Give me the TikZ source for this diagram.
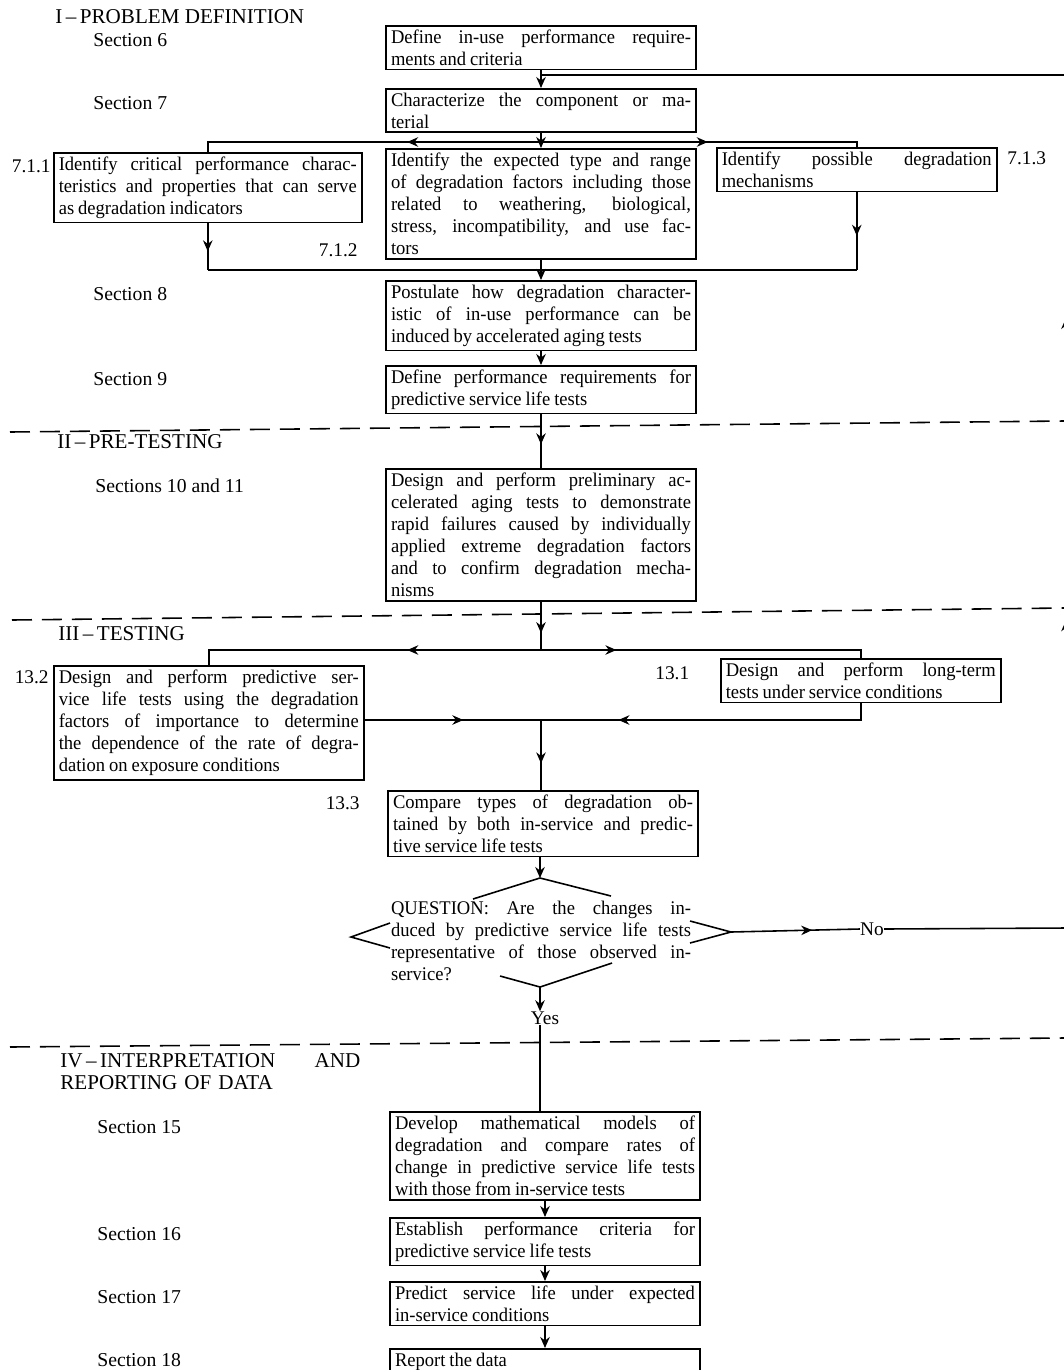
\documentclass[tikz,border=0pt]{standalone}
\usepackage{fontspec}
\setmainfont{Liberation Serif}
\newfontfamily\boxfont[FakeStretch=0.96,WordSpace={0.85,1.5,1.2}]{Liberation Serif}
\usetikzlibrary{arrows.meta}
\usetikzlibrary{decorations.markings}
\usetikzlibrary{calc}
\tolerance=9999
\hyphenpenalty=10000
\exhyphenpenalty=10000

\begin{document}
\begin{tikzpicture}[x=0.02cm,y=-0.02cm,
	>={Stealth[length=2.2mm,width=1.9mm]},
	box/.style={draw,line width=0.9pt,align=justify,inner xsep=0.1cm,inner ysep=2.2pt,
		text width=#1,font=\boxfont\fontsize{11}{12.6}\selectfont},
	box/.default=6cm,
	qtext/.style={align=justify,inner sep=0pt,text width=6cm,font=\boxfont\fontsize{11}{12.6}\selectfont},
	heading/.style={anchor=west,inner sep=0pt,font=\fontsize{12}{12.6}\selectfont},
	seclabel/.style={anchor=west,inner sep=0pt,font=\fontsize{11.2}{13}\selectfont},
	numlabel/.style={inner sep=0pt,font=\fontsize{11}{13}\selectfont},
	sepline/.style={line width=0.9pt,dash pattern=on 0.4cm off 0.2cm},
	link/.style={line width=0.9pt},
	midarrow/.style={link,postaction={decorate},
		decoration={markings,mark=at position #1 with {\arrow{>}}}},
	]

	\useasboundingbox (0,0) rectangle (1064,1370);

	% I - problem definition
	\node [heading] (h1) at (55,17) {I\,--\,PROBLEM DEFINITION};
	\node [seclabel] at (93,40) {Section 6};
	\node [seclabel] at (93,103) {Section 7};
	\node [seclabel] at (93,294) {Section 8};
	\node [seclabel] at (93,379) {Section 9};

	\node [box,anchor=north] (b6) at (541,25) {Define in-use performance require-\linebreak ments and criteria};
	\node [box,anchor=north] (b7) at (541,88) {Characterize the component or ma-\linebreak terial};
	\node [box=5.96cm,anchor=north west] (b711) at (53,152) {Identify critical performance charac-\linebreak teristics and properties that can serve\linebreak as degradation indicators};
	\node [box,anchor=north] (b712) at (541,148) {Identify the expected type and range\linebreak of degradation factors including those\linebreak related to weathering, biological,\linebreak stress, incompatibility, and use fac-\linebreak tors};
	\node [box=5.4cm,anchor=north west] (b713) at (716,147) {Identify possible degradation\linebreak mechanisms};
	\node [box,anchor=north] (b8) at (541,280) {Postulate how degradation character-\linebreak istic of in-use performance can be\linebreak induced by accelerated aging tests};
	\node [box,anchor=north] (b9) at (541,365) {Define performance requirements for\linebreak predictive service life tests};

	\node [numlabel,anchor=east] at (51,166) {7.1.1};
	\node [numlabel,anchor=east] at (358,250) {7.1.2};
	\node [numlabel,anchor=west] at (1007,158) {7.1.3};

	% II - pre-testing
	\node [heading] (h2) at (57,442) {II\,--\,PRE-TESTING};
	\node [seclabel] at (95,486) {Sections 10 and 11};
	\node [box,anchor=north] (b10) at (541,468) {Design and perform preliminary ac-\linebreak celerated aging tests to demonstrate\linebreak rapid failures caused by individually\linebreak applied extreme degradation factors\linebreak and to confirm degradation mecha-\linebreak nisms};

	% III - testing
	\node [heading] (h3) at (58,634) {III\,--\,TESTING};
	\node [box,anchor=north west] (b132) at (53,665) {Design and perform predictive ser-\linebreak vice life tests using the degradation\linebreak factors of importance to determine\linebreak the dependence of the rate of degra-\linebreak dation on exposure conditions};
	\node [box=5.4cm,anchor=north west] (b131) at (720,658) {Design and perform long-term\linebreak tests under service conditions};
	\node [box,anchor=north] (b133) at (543,790) {Compare types of degradation ob-\linebreak tained by both in-service and predic-\linebreak tive service life tests};

	\node [numlabel,anchor=east] at (49,677) {13.2};
	\node [numlabel,anchor=west] at (655,673) {13.1};
	\node [numlabel,anchor=east] at (360,803) {13.3};

	\node [qtext] (q) at (541,941) {QUESTION: Are the changes in-\linebreak duced by predictive service life tests\linebreak representative of those observed in-\linebreak service?};
	\coordinate (qtop) at (540,878);
	\coordinate (qbot) at (540,987);
	\coordinate (qleft) at (351,937);
	\coordinate (qright) at (731,932);
	\draw [link] (473,899) -- (qtop) -- (611,896);
	\draw [link] (390,923) -- (qleft) -- (390,948);
	\draw [link] (690,921) -- (qright) -- (690,943);
	\draw [link] (500,976) -- (qbot) -- (612,963);

	\node [numlabel] (yes) at (545,1018) {Yes};
	\node [numlabel] (no) at (872,929) {No};

	% IV - interpretation
	\node [heading,anchor=north west,align=left,text width=6cm] (h4) at (60,1053) {IV\,--\,INTERPRETATION\hfill AND\\REPORTING OF DATA};
	\node [seclabel] at (97,1127) {Section 15};
	\node [seclabel] at (97,1234) {Section 16};
	\node [seclabel] at (97,1297) {Section 17};
	\node [seclabel] at (97,1360) {Section 18};

	\node [box,anchor=north] (b15) at (545,1111) {Develop mathematical models of\linebreak degradation and compare rates of\linebreak change in predictive service life tests\linebreak with those from in-service tests};
	\node [box,anchor=north] (b16) at (545,1217) {Establish performance criteria for\linebreak predictive service life tests};
	\node [box,anchor=north] (b17) at (545,1281) {Predict service life under expected\linebreak in-service conditions};
	\node [box,anchor=north] (b18) at (545,1348) {Report the data};

	% separators
	\draw [sepline] (10,432) -- (1064,421);
	\draw [sepline] (12,620) -- (1064,608);
	\draw [sepline] (10,1047) -- (1064,1038);

	% connectors
	\coordinate (fbtop) at (1066,75);
	\coordinate (fbmid) at (1066,470);
	\coordinate (fbbot) at (1066,928);
	\draw [link,->] (b6.south) -- (b7.north);
	\draw [link] (fbtop) -- (b6.south |- fbtop);

	\coordinate (s7) at (541,142);
	\draw [link] (b7.south) -- (s7);
	\draw [link,->] (s7) -- (b712.north);
	\draw [midarrow=0.39] (s7) -| (b711.north);
	\draw [midarrow=0.52] (s7) -| (b713.north);

	\coordinate (m8) at (541,270);
	\draw [midarrow=0.6] (b711.south) -- (b711.south |- m8);
	\draw [midarrow=0.56] (b713.south) -- (b713.south |- m8);
	\draw [link] (b711.south |- m8) -- (b713.south |- m8);
	\draw [link,->] (b712.south) -- (b8.north);
	\draw [link,->] (b8.south) -- (b9.north);
	\draw [midarrow=0.56] (b9.south) -- (b10.north);

	\coordinate (s10) at (541,650);
	\draw [midarrow=0.65] (b10.south) -- (s10);
	\draw [midarrow=0.385] (s10) -| (b132.north);
	\draw [midarrow=0.23] (s10) -| (b131.north);

	\coordinate (j13) at (541,720);
	\draw [midarrow=0.56] (b132.east |- j13) -- (j13);
	\draw [midarrow=0.77] (b131.south) |- (j13);
	\draw [midarrow=0.62] (j13) -- (j13 |- b133.north);
	\draw [link,->] (b133.south -| qtop) -- (qtop);

	\draw [link,->] (qbot) -- (qbot |- yes.north);
	\draw [link] (qbot |- yes.south) -- (qbot |- b15.north);
	\draw [midarrow=0.63] (qright) -- (no.west);
	\draw [link] (no.east) -- (fbbot);
	\draw [midarrow=0.672] (fbbot) -- (fbmid);
	\draw [midarrow=0.385] (fbmid) -- (fbtop);

	\draw [link,->] (b15.south) -- (b16.north);
	\draw [link,->] (b16.south) -- (b17.north);
	\draw [link,->] (b17.south) -- (b18.north);

\end{tikzpicture}
\end{document}
